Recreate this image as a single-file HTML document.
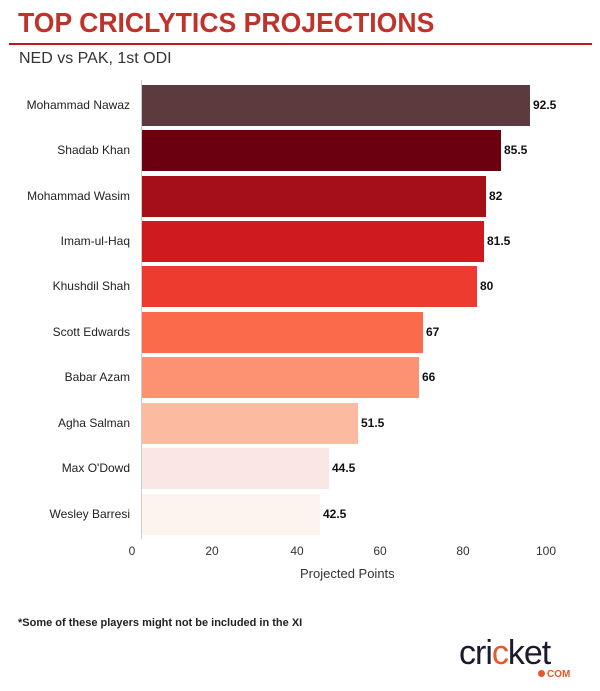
<!DOCTYPE html>
<html><head><meta charset="utf-8"><style>
body{margin:0;width:600px;height:691px;background:#fff;font-family:"Liberation Sans",sans-serif;position:relative;overflow:hidden}
.a{position:absolute}
.bar{position:absolute;left:142px;height:41px}
.nm{position:absolute;right:470px;font-size:12px;color:#222;text-align:right;white-space:nowrap}
.v{position:absolute;font-size:12px;color:#111;font-weight:bold}
.t{position:absolute;top:544px;font-size:12px;color:#333;width:40px;text-align:center}
</style></head><body>
<div class="a" style="left:18px;top:7px;font-size:28px;font-weight:bold;color:#c0332b;transform:scaleX(0.95);transform-origin:0 0">TOP CRICLYTICS PROJECTIONS</div>
<div class="a" style="left:9px;top:43px;width:583px;height:2px;background:#c4161c"></div>
<div class="a" style="left:19px;top:50px;font-size:16px;color:#333">NED vs PAK, 1st ODI</div>
<div class="a" style="left:141px;top:80px;width:1px;height:459px;background:#ccc"></div>

<div class="bar" style="top:85px;width:388px;background:#5c3a3d"></div><div class="nm" style="top:98px">Mohammad Nawaz</div><div class="v" style="left:533px;top:98px">92.5</div>
<div class="bar" style="top:130px;width:359px;background:#6b0010"></div><div class="nm" style="top:143px">Shadab Khan</div><div class="v" style="left:504px;top:143px">85.5</div>
<div class="bar" style="top:176px;width:344px;background:#a50f1a"></div><div class="nm" style="top:189px">Mohammad Wasim</div><div class="v" style="left:489px;top:189px">82</div>
<div class="bar" style="top:221px;width:342px;background:#cf1b1f"></div><div class="nm" style="top:234px">Imam-ul-Haq</div><div class="v" style="left:487px;top:234px">81.5</div>
<div class="bar" style="top:266px;width:335px;background:#ee3b2f"></div><div class="nm" style="top:279px">Khushdil Shah</div><div class="v" style="left:480px;top:279px">80</div>
<div class="bar" style="top:312px;width:281px;background:#fb6a4a"></div><div class="nm" style="top:325px">Scott Edwards</div><div class="v" style="left:426px;top:325px">67</div>
<div class="bar" style="top:357px;width:277px;background:#fc9272"></div><div class="nm" style="top:370px">Babar Azam</div><div class="v" style="left:422px;top:370px">66</div>
<div class="bar" style="top:403px;width:216px;background:#fcbba1"></div><div class="nm" style="top:416px">Agha Salman</div><div class="v" style="left:361px;top:416px">51.5</div>
<div class="bar" style="top:448px;width:187px;background:#fbe6e6"></div><div class="nm" style="top:461px">Max O'Dowd</div><div class="v" style="left:332px;top:461px">44.5</div>
<div class="bar" style="top:494px;width:178px;background:#fdf4ee"></div><div class="nm" style="top:507px">Wesley Barresi</div><div class="v" style="left:323px;top:507px">42.5</div>

<div class="t" style="left:112px">0</div><div class="t" style="left:192px">20</div><div class="t" style="left:277px">40</div><div class="t" style="left:360px">60</div><div class="t" style="left:443px">80</div><div class="t" style="left:526px">100</div>
<div class="a" style="left:300px;top:566px;font-size:13px;color:#333">Projected Points</div>
<div class="a" style="left:18px;top:617px;font-size:11px;font-weight:bold;color:#222">*Some of these players might not be included in the XI</div>
<div class="a" style="left:459px;top:634px;font-size:34px;color:#1a1a2e;letter-spacing:-1px">cri<span style="color:#e8562a">c</span>ket</div>
<div class="a" style="left:538px;top:669px;font-size:10px;font-weight:bold;color:#e8562a"><span style="display:inline-block;width:7px;height:7px;border-radius:50%;background:#e8562a;margin-right:2px"></span>COM</div>
</body></html>
